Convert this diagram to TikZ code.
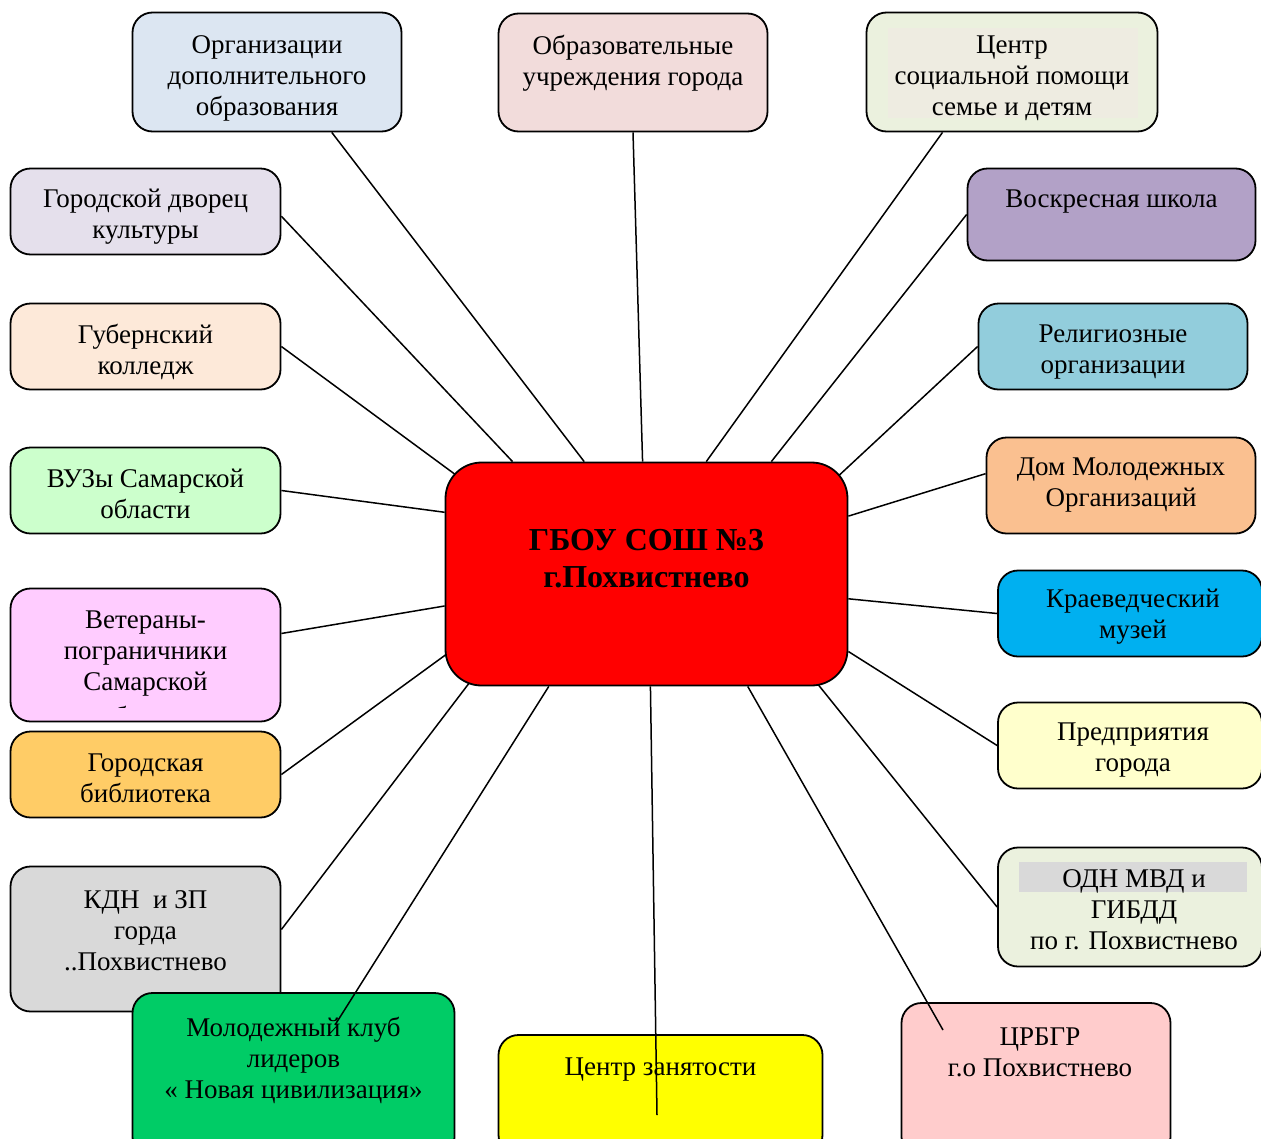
\documentclass[tikz,border=0pt]{standalone}
\usepackage{fontspec}
\setmainfont{Liberation Serif}
\usetikzlibrary{backgrounds, calc}

\definecolor{orgblue}{HTML}{DCE6F2}
\definecolor{obrpink}{HTML}{F2DCDB}
\definecolor{cspgreen}{HTML}{EBF1DE}
\definecolor{cspinner}{HTML}{EEECE1}
\definecolor{gdklilac}{HTML}{E5E0EC}
\definecolor{voskviolet}{HTML}{B2A1C7}
\definecolor{gubpeach}{HTML}{FDE9D9}
\definecolor{relteal}{HTML}{92CDDC}
\definecolor{vuzgreen}{HTML}{CCFFCC}
\definecolor{domorange}{HTML}{FAC090}
\definecolor{vetpink}{HTML}{FFCCFF}
\definecolor{kraevblue}{HTML}{00B0F0}
\definecolor{bibgold}{HTML}{FFCC66}
\definecolor{predyellow}{HTML}{FFFFCC}
\definecolor{kdngray}{HTML}{D9D9D9}
\definecolor{molgreen}{HTML}{00CC66}
\definecolor{zanyellow}{HTML}{FFFF00}
\definecolor{crbrose}{HTML}{FFCCCC}
\definecolor{hubred}{HTML}{FF0000}

\begin{document}
\begin{tikzpicture}[x=1pt,y=-1pt,
  box/.style={draw, line width=1.8pt, rounded corners=20pt, inner sep=0pt},
  txt/.style={align=center, inner sep=0pt, font=\fontsize{27}{31}\selectfont},
  link/.style={line width=1.5pt}]
\useasboundingbox (0,0) rectangle (1261,1138);
\clip (0,0) rectangle (1261,1138);

% centre
\node[box, fill=hubred, minimum width=402pt, minimum height=223pt, rounded corners=36pt] (hub) at (646.5,574) {};
\node[align=center, inner sep=0pt, font=\fontsize{32}{37}\selectfont\bfseries] (hubT) at (646.5,559) {ГБОУ СОШ №3\\г.Похвистнево};

% top row
\node[box, fill=orgblue, minimum width=269pt, minimum height=119pt] (org) at (267,72) {};
\node[txt] (orgT) at (267,78) {Организации\\дополнительного\\образования};
\node[box, fill=obrpink, minimum width=269pt, minimum height=118pt] (obr) at (633,72.5) {};
\node[txt] (obrT) at (633,63) {Образовательные\\учреждения города};
\node[box, fill=cspgreen, minimum width=291pt, minimum height=119pt] (csp) at (1012,72) {};
\fill[cspinner] (888,28) rectangle (1138,118);
\node[txt] (cspT) at (1012,78) {Центр\\социальной помощи\\семье и детям};

% left column
\node[box, fill=gdklilac, minimum width=270pt, minimum height=86pt] (gdk) at (145.5,211.5) {};
\node[txt] (gdkT) at (145.5,217) {Городской дворец\\культуры};
\node[box, fill=gubpeach, minimum width=270pt, minimum height=86pt] (gub) at (145.5,346.5) {};
\node[txt] (gubT) at (145.5,352) {Губернский\\колледж};
\node[box, fill=vuzgreen, minimum width=270pt, minimum height=86pt] (vuz) at (145.5,490.5) {};
\node[txt] (vuzT) at (145.5,494) {ВУЗы Самарской\\области};
\node[box, fill=vetpink, minimum width=270pt, minimum height=133pt] (vet) at (145.5,655) {};
\node[txt] (vetT) at (145.5,654) {Ветераны-\\пограничники\\Самарской};
\begin{scope}
\clip (10,588) rectangle (281,707);
\node[txt] (vetT2) at (145.5,716) {области};
\end{scope}
\node[box, fill=bibgold, minimum width=270pt, minimum height=86pt] (bib) at (145.5,774.5) {};
\node[txt] (bibT) at (145.5,778) {Городская\\библиотека};
\node[box, fill=kdngray, minimum width=270pt, minimum height=145pt] (kdn) at (145.5,939) {};
\node[txt] (kdnT) at (145.5,931) {КДН\ \ и ЗП\\горда\\..Похвистнево};

% right column
\node[box, fill=voskviolet, minimum width=288pt, minimum height=92pt] (vosk) at (1111.5,214.5) {};
\node[txt] (voskT) at (1111.5,202) {Воскресная школа};
\node[box, fill=relteal, minimum width=269pt, minimum height=86pt] (rel) at (1113,346.5) {};
\node[txt] (relT) at (1113,352) {Религиозные\\организации};
\node[box, fill=domorange, minimum width=269pt, minimum height=96pt] (dom) at (1121,485.5) {};
\node[txt] (domT) at (1121,485) {Дом Молодежных\\Организаций};
\node[box, fill=kraevblue, minimum width=264pt, minimum height=86pt] (kraev) at (1130,613.5) {};
\node[txt] (kraevT) at (1133,617) {Краеведческий\\музей};
\node[box, fill=predyellow, minimum width=264pt, minimum height=86pt] (pred) at (1130,745.5) {};
\node[txt] (predT) at (1133,750) {Предприятия\\города};
\node[box, fill=cspgreen, minimum width=264pt, minimum height=119pt] (odn) at (1130,907) {};
\fill[kdngray] (1019,862) rectangle (1247,892);
\node[txt] (odnT) at (1134,910) {ОДН МВД и\\ГИБДД\\по г. Похвистнево};

% bottom row
\node[box, fill=molgreen, minimum width=322pt, minimum height=164pt] (mol) at (293.5,1075) {};
\node[txt] (molT) at (293.5,1060) {Молодежный клуб\\лидеров\\« Новая цивилизация»};
\node[box, fill=zanyellow, minimum width=324pt, minimum height=120pt] (zan) at (660.5,1095) {};
\node[txt] (zanT) at (660.5,1070) {Центр занятости};
\node[box, fill=crbrose, minimum width=269pt, minimum height=154pt] (crb) at (1036,1080) {};
\node[txt] (crbT) at (1040,1052) {ЦРБГР\\г.о Похвистнево};

\coordinate (molEnd) at (335,1025);
\coordinate (zanEnd) at (657,1115);
\coordinate (crbEnd) at (943,1030);

% links behind the boxes
\begin{scope}[on background layer]
\draw[link] (hub.119.5) -- (org.317.3);
\draw[link] (hub.92.8) -- (obr.south);
\draw[link] (hub.62) -- (csp.221.1);
\draw[link] (hub.140) -- (gdk.358.5);
\draw[link] (hub.42.7) -- (vosk.west);
\draw[link] ($(hub.152)!-0.2!(gub.east)$) -- (gub.east);
\draw[link] ($(hub.28.6)!-0.2!(rel.west)$) -- (rel.west);
\draw[link] (hub.163.7) -- (vuz.east);
\draw[link] (hub.16.3) -- (dom.175.1);
\draw[link] (hub.189.3) -- (vet.9.6);
\draw[link] (hub.353.5) -- (kraev.west);
\draw[link] ($(hub.202.6)!-0.2!(bib.east)$) -- (bib.east);
\draw[link] (hub.339.8) -- (pred.west);
\draw[link] ($(hub.212.85)!-0.2!(kdn.4.6)$) -- (kdn.4.6);
\draw[link] ($(hub.327.6)!-0.2!(odn.west)$) -- (odn.west);
\end{scope}

% links over the bottom boxes
\draw[link] (hub.229) -- (molEnd);
\draw[link] (hub.272.8) -- (zanEnd);
\draw[link] (hub.312.2) -- (crbEnd);
\end{tikzpicture}
\end{document}
